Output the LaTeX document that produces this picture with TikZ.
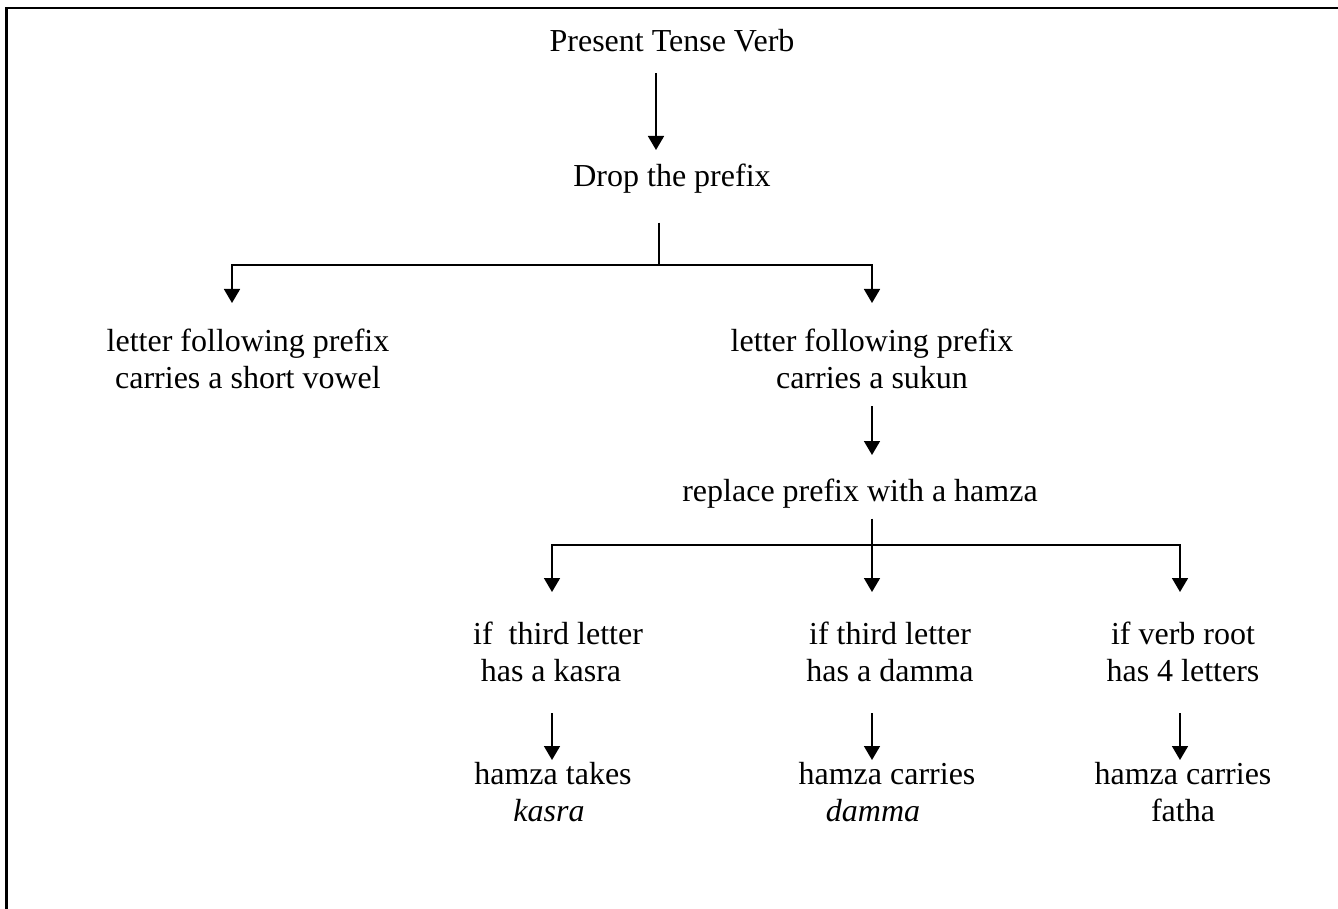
\documentclass[tikz,border=0pt]{standalone}
\usepackage{fontspec}
\setmainfont{Liberation Serif}
\usetikzlibrary{arrows.meta}

\begin{document}
\begin{tikzpicture}[x=1pt,y=-1pt,
    lbl/.style={anchor=north,inner sep=0pt,align=center,font=\fontsize{32pt}{37pt}\selectfont},
    link/.style={line width=1.7pt},
    arr/.style={line width=1.7pt,-{Triangle[length=14pt,width=16pt]}}]

    \useasboundingbox (0,0) rectangle (1338,909);
    \draw[line width=2.5pt] (6.5,909) -- (6.5,8) -- (1338,8); % frame

    % tree
    \node[lbl] (verb) at (672,29) {Present Tense Verb};
    \node[lbl] (drop) at (672,164) {Drop the prefix};
    \node[lbl] (short) at (248,329) {letter following prefix\\carries a short vowel};
    \node[lbl] (sukun) at (872,329) {letter following prefix\\carries a sukun};
    \node[lbl] (hamza) at (860,479) {replace prefix with a hamza};
    \node[lbl] (kif) at (558,622) {if\ \ third letter\\has a kasra\hspace*{14pt}};
    \node[lbl] (dif) at (890,622) {if third letter\\has a damma};
    \node[lbl] (fif) at (1183,622) {if verb root\\has 4 letters};
    \node[lbl] (kres) at (553,762) {hamza takes\\\textit{kasra}\hspace*{8pt}};
    \node[lbl] (dres) at (887,762) {hamza carries\\\textit{damma}\hspace*{28pt}};
    \node[lbl] (fres) at (1183,762) {hamza carries\\fatha};

    \coordinate (split1) at (659,265);
    \coordinate (split2) at (872,545);
    \coordinate (lx) at (232,0);
    \coordinate (kx) at (552,0);
    \coordinate (fx) at (1180,0);

    \draw[arr,shorten <=21pt,shorten >=14pt] (verb.south -| 656,0) -- (drop.north -| 656,0); % verb -> drop
    \draw[link,shorten <=29pt] (drop.south -| split1) -- (split1); % drop -> split
    \draw[arr,shorten >=26pt] (split1) -| (short.north -| lx); % split -> short vowel
    \draw[arr,shorten >=26pt] (split1) -| (sukun.north); % split -> sukun
    \draw[arr,shorten <=17pt,shorten >=24pt] (sukun.south) -- (hamza.north -| sukun.south); % sukun -> hamza
    \draw[arr,shorten <=10pt,shorten >=30pt] (hamza.south -| split2) -- (dif.north -| split2); % hamza -> damma
    \draw[arr,shorten >=30pt] (split2) -| (kif.north -| kx); % split -> kasra
    \draw[arr,shorten >=30pt] (split2) -| (fif.north -| fx); % split -> 4 letters
    \draw[arr,shorten <=31pt,shorten >=2pt] (kif.south -| kx) -- (kres.north -| kx); % kasra -> takes kasra
    \draw[arr,shorten <=31pt,shorten >=2pt] (dif.south -| split2) -- (dres.north -| split2); % damma -> carries damma
    \draw[arr,shorten <=31pt,shorten >=2pt] (fif.south -| fx) -- (fres.north -| fx); % 4 letters -> carries fatha

\end{tikzpicture}
\end{document}
